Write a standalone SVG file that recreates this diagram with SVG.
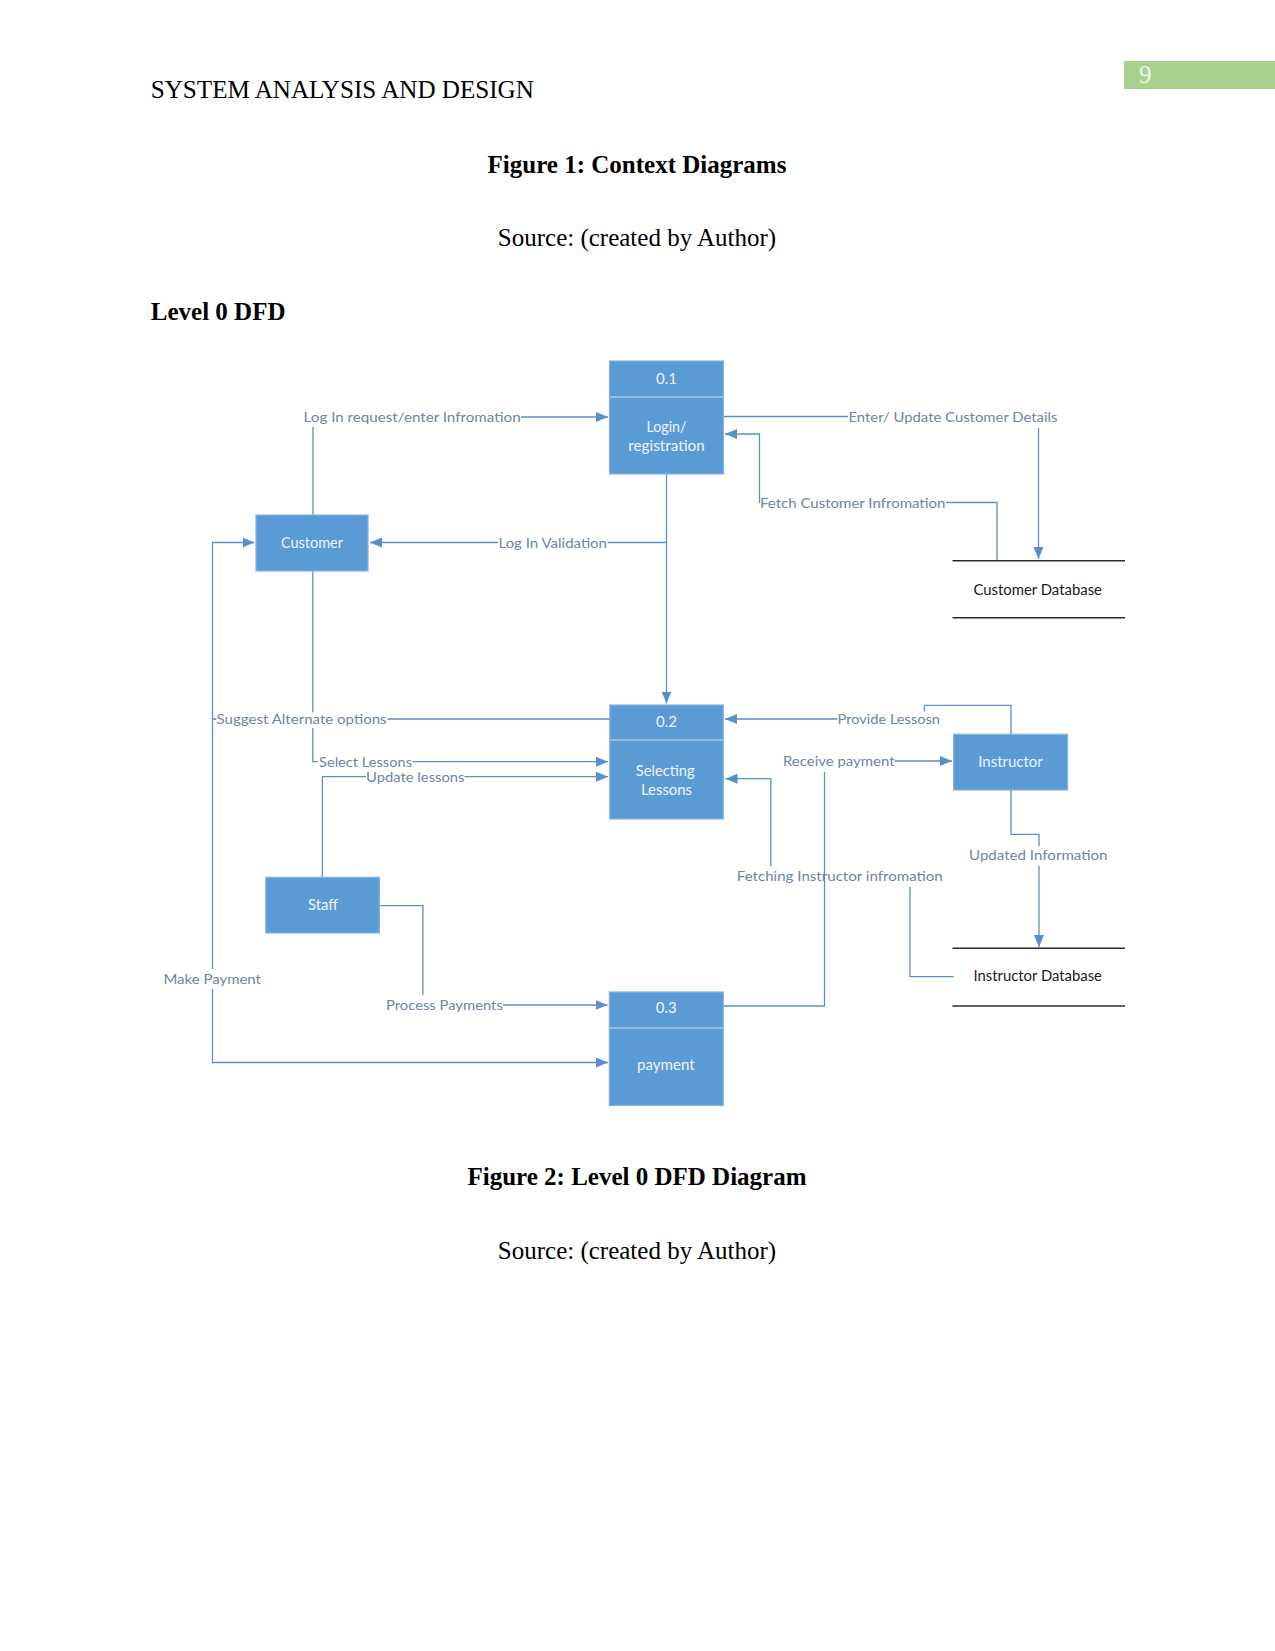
<svg xmlns="http://www.w3.org/2000/svg" width="1275" height="1651" viewBox="0 0 1275 1651">
<style>
.page{font-family:"Liberation Serif","Times New Roman",serif;font-size:25px;fill:#000}
.b{font-weight:bold}
.box{fill:#5b9bd5;stroke:#86b3e0;stroke-width:1.2}
.div{stroke:#a8c8ea;stroke-width:1.5}
.bt{font-family:Lato,"Open Sans",sans-serif;font-size:15px;fill:#eef4fb;text-anchor:middle}
.lbl{font-family:Lato,"Open Sans",sans-serif;font-size:14px;fill:#6f84a0}
.dbt{font-family:Lato,"Open Sans",sans-serif;font-size:14.5px;fill:#1a1a1a;text-anchor:middle}
.con{fill:none;stroke:#5b8fc9;stroke-width:1.3}
.arr{marker-end:url(#arr)}
.db{stroke:#2a2a2a;stroke-width:1.5}
</style>
<defs>
<marker id="arr" viewBox="0 0 12 10" refX="12" refY="5" markerWidth="12" markerHeight="10" orient="auto-start-reverse" markerUnits="userSpaceOnUse">
<path d="M0,0 L12,5 L0,10 z" fill="#5b8fc9"/>
</marker>
</defs>
<rect width="1275" height="1651" fill="#fff"/>
<g id="header">
<text class="page" x="150.8" y="98" textLength="383" lengthAdjust="spacingAndGlyphs">SYSTEM ANALYSIS AND DESIGN</text>
<rect x="1124" y="61" width="151" height="28" fill="#a9d18e"/>
<text class="page" x="1139" y="83" fill="#eef6e8" style="fill:#eef6e8">9</text>
<text class="page b" x="637" y="173" text-anchor="middle">Figure 1: Context Diagrams</text>
<text class="page" x="637" y="246" text-anchor="middle">Source: (created by Author)</text>
<text class="page b" x="150.8" y="320">Level 0 DFD</text>
<text class="page b" x="637" y="1185" text-anchor="middle">Figure 2: Level 0 DFD Diagram</text>
<text class="page" x="637" y="1259" text-anchor="middle">Source: (created by Author)</text>
</g>
<g id="connectors">
<path class="con arr" d="M313,515 V427 M521,417 H608"/>
<path class="con arr" d="M666.5,474 V703.5"/>
<path class="con arr" d="M666.5,542.5 H607.5 M498,542.5 H370"/>
<path class="con arr" d="M723.5,416.5 H848 M1038.5,428 V559"/>
<path class="con arr" d="M997,560.5 V502.5 H946 M759.5,503 V434 H725"/>
<path class="con" style="marker-start:url(#arr);marker-end:url(#arr)" d="M254.5,542.5 H212.5 V969 M212.5,989 V1062.5 H608"/>
<path class="con" d="M609.8,719 H387.5 M216.5,719 H212.5"/>
<path class="con arr" d="M312.8,571 V712.5 M312.8,728 V761.7 H318 M412.5,761.7 H608"/>
<path class="con arr" d="M322.4,877.5 V776.7 H366 M464.5,776.7 H608"/>
<path class="con arr" d="M379.4,905.7 H422.9 V995 M503,1005 H607.5"/>
<path class="con arr" d="M1011,734.3 V705.3 H924.4 V711.5 M837.5,719 H725"/>
<path class="con arr" d="M723.3,1006 H824.5 V772 M894.6,761 H952"/>
<path class="con arr" d="M953.6,976.7 H910 V887 M770.8,866 V778.7 H725.5"/>
<path class="con arr" d="M1011,790 V834.3 H1039 V846 M1039,866 V947"/>
<text class="lbl" x="303.6" y="422" textLength="217" lengthAdjust="spacingAndGlyphs">Log In request/enter Infromation</text>
<text class="lbl" x="498.5" y="547.5" textLength="108.5" lengthAdjust="spacingAndGlyphs">Log In Validation</text>
<text class="lbl" x="848.5" y="421.7" textLength="209" lengthAdjust="spacingAndGlyphs">Enter/ Update Customer Details</text>
<text class="lbl" x="760" y="507.7" textLength="185.5" lengthAdjust="spacingAndGlyphs">Fetch Customer Infromation</text>
<text class="lbl" x="216.6" y="724" textLength="170" lengthAdjust="spacingAndGlyphs">Suggest Alternate options</text>
<text class="lbl" x="319" y="766.7" textLength="93" lengthAdjust="spacingAndGlyphs">Select Lessons</text>
<text class="lbl" x="366" y="781.7" textLength="98.5" lengthAdjust="spacingAndGlyphs">Update lessons</text>
<text class="lbl" x="837.5" y="724" textLength="102.5" lengthAdjust="spacingAndGlyphs">Provide Lessosn</text>
<text class="lbl" x="783" y="766" textLength="111.5" lengthAdjust="spacingAndGlyphs">Receive payment</text>
<text class="lbl" x="969" y="860.3" textLength="138.5" lengthAdjust="spacingAndGlyphs">Updated Information</text>
<text class="lbl" x="736.8" y="881" textLength="206" lengthAdjust="spacingAndGlyphs">Fetching Instructor infromation</text>
<text class="lbl" x="163.4" y="984" textLength="97.6" lengthAdjust="spacingAndGlyphs">Make Payment</text>
<text class="lbl" x="386" y="1010" textLength="116.8" lengthAdjust="spacingAndGlyphs">Process Payments</text>
</g>
<g id="p01">
<rect class="box" x="609.5" y="361" width="114" height="113"/>
<line class="div" x1="609.5" y1="397" x2="723.5" y2="397"/>
<text class="bt" x="666.5" y="383.5">0.1</text>
<text class="bt" x="666.5" y="431.5" textLength="40" lengthAdjust="spacingAndGlyphs">Login/</text>
<text class="bt" x="666.5" y="450.5" textLength="76.5" lengthAdjust="spacingAndGlyphs">registration</text>
</g>
<g id="customer">
<rect class="box" x="256" y="515" width="112" height="56"/>
<text class="bt" x="312" y="547.5" textLength="62" lengthAdjust="spacingAndGlyphs">Customer</text>
</g>
<g id="customerdb">
<line class="db" x1="952.5" y1="560.7" x2="1125" y2="560.7"/>
<line class="db" x1="952.5" y1="617.7" x2="1125" y2="617.7"/>
<text class="dbt" x="1037.7" y="595" textLength="128.5" lengthAdjust="spacingAndGlyphs">Customer Database</text>
</g>
<g id="p02">
<rect class="box" x="609.8" y="705" width="113.5" height="114"/>
<line class="div" x1="609.8" y1="740" x2="723.3" y2="740"/>
<text class="bt" x="666.5" y="727">0.2</text>
<text class="bt" x="665.2" y="775.5" textLength="59" lengthAdjust="spacingAndGlyphs">Selecting</text>
<text class="bt" x="666.5" y="794.5" textLength="51" lengthAdjust="spacingAndGlyphs">Lessons</text>
</g>
<g id="instructor">
<rect class="box" x="953.6" y="734.3" width="114" height="55.7"/>
<text class="bt" x="1010.5" y="767" textLength="64.5" lengthAdjust="spacingAndGlyphs">Instructor</text>
</g>
<g id="staff">
<rect class="box" x="265.8" y="877.3" width="113.6" height="55.7"/>
<text class="bt" x="323" y="910" textLength="30" lengthAdjust="spacingAndGlyphs">Staff</text>
</g>
<g id="instructordb">
<line class="db" x1="952.5" y1="948.3" x2="1125" y2="948.3"/>
<line class="db" x1="952.5" y1="1006" x2="1125" y2="1006"/>
<text class="dbt" x="1037.7" y="981" textLength="128.5" lengthAdjust="spacingAndGlyphs">Instructor Database</text>
</g>
<g id="p03">
<rect class="box" x="609.3" y="992" width="114" height="113.5"/>
<line class="div" x1="609.3" y1="1028" x2="723.3" y2="1028"/>
<text class="bt" x="666.3" y="1013">0.3</text>
<text class="bt" x="665.8" y="1070" textLength="57.6" lengthAdjust="spacingAndGlyphs">payment</text>
</g>
</svg>
